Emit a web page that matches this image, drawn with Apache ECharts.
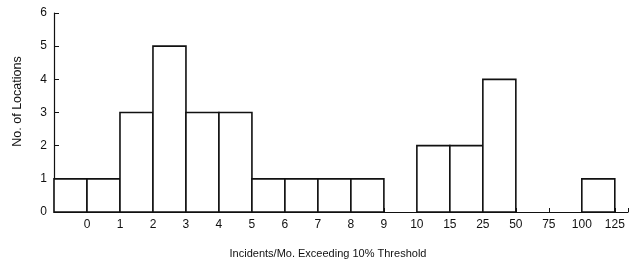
<!DOCTYPE html>
<html>
<head>
<meta charset="utf-8">
<script src="https://cdn.jsdelivr.net/npm/echarts@6/dist/echarts.min.js"></script>
<style>
  html, body { margin: 0; padding: 0; background: #fff; }
  #chart { width: 631px; height: 264px; }
</style>
</head>
<body>
<div id="chart"></div>
<script>
// bin boundary labels (boundary 0 is the unlabeled left edge)
const boundaryLabels = ['', '0', '1', '2', '3', '4', '5', '6', '7', '8', '9', '10', '15', '25', '50', '75', '100', '125']
// number of locations in each bin, left to right
const counts = [1, 1, 3, 5, 3, 3, 1, 1, 1, 1, 0, 2, 2, 4, 0, 0, 1]
const yTicks = [0, 1, 2, 3, 4, 5, 6]

const ink = '#111'
const font = 'Liberation Sans'

const chart = echarts.init(document.getElementById('chart'))

chart.setOption({
  animation: false,
  backgroundColor: '#fff',
  grid: { left: 54, right: 0, top: 13, bottom: 50 },
  xAxis: {
    type: 'value',
    min: 0,
    max: 17.4,
    interval: 1,
    name: 'Incidents/Mo. Exceeding 10% Threshold',
    nameLocation: 'middle',
    nameGap: 36,
    nameTextStyle: { color: ink, fontFamily: font, fontSize: 11, padding: [0, 26, 0, 0] },
    axisLine: { lineStyle: { color: ink, width: 1.2 } },
    axisTick: { inside: true, length: 4, lineStyle: { color: ink } },
    axisLabel: {
      color: ink, fontFamily: font, fontSize: 12, margin: 7,
      formatter: (v) => Number.isInteger(v) ? (boundaryLabels[v] || '') : '',
    },
    splitLine: { show: false },
  },
  yAxis: {
    type: 'value',
    min: yTicks[0],
    max: yTicks[yTicks.length - 1],
    interval: 1,
    name: 'No. of Locations',
    nameLocation: 'middle',
    nameGap: 30,
    nameTextStyle: { color: ink, fontFamily: font, fontSize: 12.5, padding: [0, 0, 0, 22] },
    axisLine: { show: true, lineStyle: { color: ink, width: 1.2 } },
    axisTick: { show: true, inside: true, length: 5, lineStyle: { color: ink } },
    axisLabel: { color: ink, fontFamily: font, fontSize: 12, margin: 7 },
    splitLine: { show: false },
  },
  series: [
    {
      type: 'custom',
      data: counts.map((c, i) => [i, i + 1, c]),
      encode: { x: [0, 1], y: 2 },
      renderItem: (params, api) => {
        const h = api.value(2)
        if (!h) return null
        const p0 = api.coord([api.value(0), h])
        const p1 = api.coord([api.value(1), 0])
        return {
          type: 'rect',
          shape: { x: p0[0], y: p0[1], width: p1[0] - p0[0], height: p1[1] - p0[1] },
          style: { fill: '#fff', stroke: ink, lineWidth: 1.6 },
        }
      },
    },
  ],
})
</script>
</body>
</html>
